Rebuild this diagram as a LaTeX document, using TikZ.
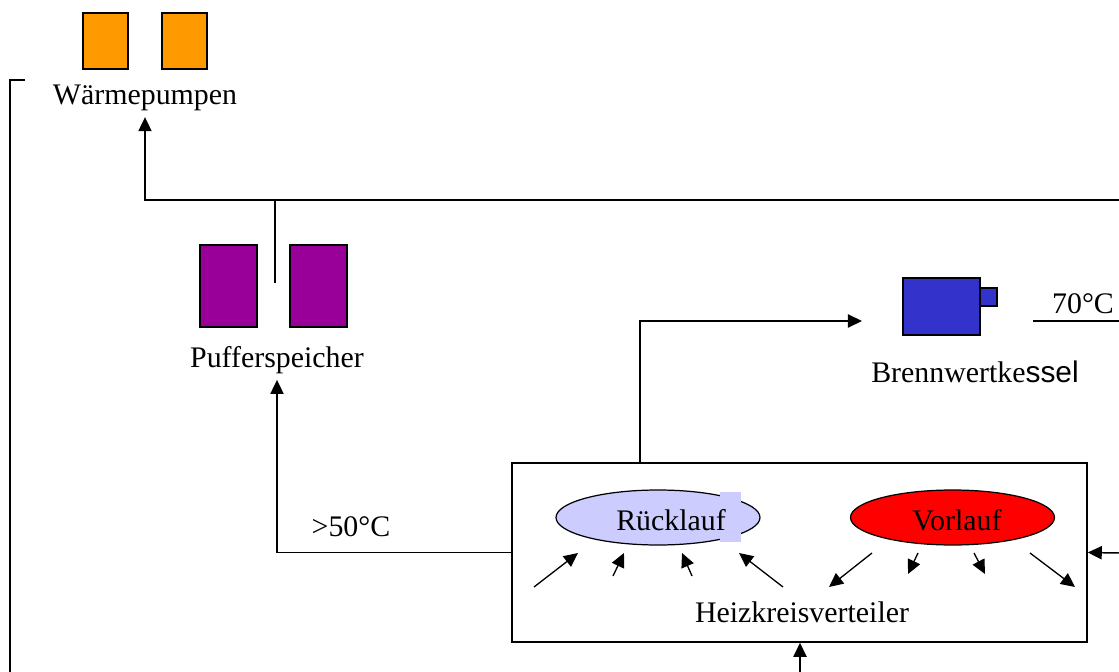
\documentclass[tikz,border=0pt]{standalone}
\usepackage{fontspec}
\setmainfont{Liberation Serif}
\setsansfont{Liberation Sans}
\usepackage{xcolor}
\usepackage{tikz}
\usetikzlibrary{arrows.meta, positioning, calc, shapes.geometric}

\definecolor{wpOrange}{HTML}{FF9900}
\definecolor{psPurple}{HTML}{990099}
\definecolor{bkBlue}{HTML}{3333CC}
\definecolor{rlLavender}{HTML}{CCCCFF}
\definecolor{vlRed}{HTML}{FF0000}

\begin{document}
\begin{tikzpicture}[x=0.02cm, y=-0.02cm, >={Triangle[length=8pt,width=7.5pt]},
    font=\fontsize{17}{20}\selectfont,
    pipe/.style={line width=0.85pt},
    thinpipe/.style={line width=0.75pt},
    tank/.style={draw, line width=0.8pt, inner sep=0pt},
    flow/.style={ellipse, draw, line width=0.7pt, inner sep=0pt,
        minimum width=4.08cm, minimum height=1.1cm}]

    \useasboundingbox (0,0) rectangle (1119,672);

    % Waermepumpen
    \node[tank, fill=wpOrange, minimum width=0.9cm, minimum height=1.12cm] (wp1) at (105.5,41) {};
    \node[tank, fill=wpOrange, minimum width=0.9cm, minimum height=1.12cm] (wp2) at (184.5,41) {};
    \node (wplabel) at (145,98) {Wärmepumpen};

    % Pufferspeicher
    \node[tank, fill=psPurple, minimum width=1.14cm, minimum height=1.64cm] (ps1) at (228.5,286) {};
    \node[tank, fill=psPurple, minimum width=1.14cm, minimum height=1.64cm] (ps2) at (318.5,286) {};
    \node (pslabel) at (277,360) {Pufferspeicher};

    % Brennwertkessel
    \node[tank, fill=bkBlue, minimum width=1.54cm, minimum height=1.14cm] (bk) at (941.5,306.5) {};
    \node[tank, fill=bkBlue, minimum width=0.34cm, minimum height=0.36cm] (bkport) at (988.5,297) {};
    \node (bklabel) at (975,372) {Brennwertke{\sffamily ssel}};

    % Temperatures
    \node (t70) at (1083,304) {70°C};
    \node (t50) at (351,527) {>50°C};

    % Heizkreisverteiler
    \node[draw, line width=0.9pt, minimum width=11.5cm, minimum height=3.58cm] (hkv) at (799.5,552.5) {};
    \node[flow, fill=rlLavender] (rl) at (658,517.5) {};
    \node[flow, fill=vlRed] (vl) at (952.5,517.5) {};
    \fill[rlLavender] (720,492) rectangle (741,542);
    \node (rltext) at (671,520) {Rücklauf};
    \node (vltext) at (957,520) {Vorlauf};
    \node (hkvlabel) at (802,612) {Heizkreisverteiler};

    % Circuits in the distributor
    \foreach \xa/\ya/\xb/\yb in {
        534/587/578/553,
        613/576/624/553,
        692/576/682/553,
        783/587/739/553,
        872/553/829/587,
        918/553/908/574,
        974/553/985/574,
        1030/553/1075/587
    }{
        \draw[thinpipe, ->] (\xa,\ya) -- (\xb,\yb);
    }

    % Pipes
    \coordinate (psmid) at (275,283);
    \coordinate (wpret) at (1119,200);
    \coordinate (rlout) at (640,463);
    \coordinate (bkin) at (862,321);
    \coordinate (vlstart) at (1033,321);
    \coordinate (vlend) at (1119,321);
    \coordinate (hkvin) at (1119,553);
    \coordinate (hkvbot) at (800,672);
    \coordinate (wpfeed) at (25,80);
    \coordinate (wpbot) at (10,672);

    \draw[pipe, ->] (hkv.west) -| (pslabel.south);
    \draw[pipe] (psmid) -- (psmid |- wpret) -- (wpret);
    \draw[pipe, ->] (psmid |- wpret) -| (wplabel.south);
    \draw[pipe, ->] (rlout) |- (bkin);
    \draw[pipe] (vlstart) -- (vlend);
    \draw[pipe, ->] (hkvin) -- (hkv.east);
    \draw[pipe, ->] (hkvbot) -- (hkvbot |- hkv.south);
    \draw[pipe] (wpfeed) -| (wpbot);

\end{tikzpicture}
\end{document}
